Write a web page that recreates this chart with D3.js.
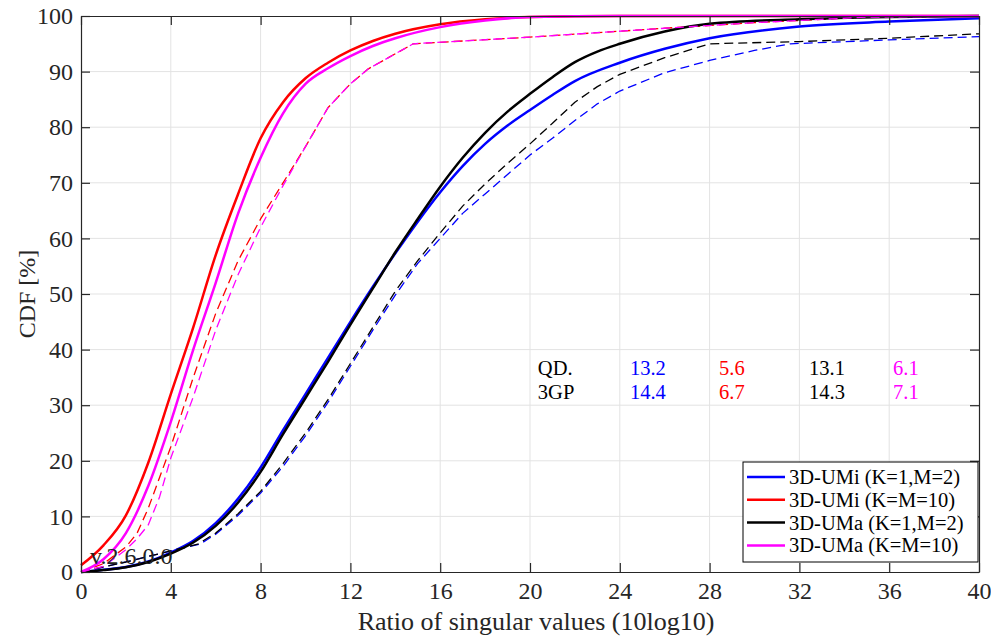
<!DOCTYPE html>
<html>
<head>
<meta charset="utf-8">
<script src="https://cdn.jsdelivr.net/npm/d3@7"></script>
<style>
  html, body { margin: 0; padding: 0; background: #fff; }
  svg { display: block; }
  text { font-family: "Liberation Serif", "DejaVu Serif", serif; }
</style>
</head>
<body>
<svg id="chart" width="991" height="637"></svg>
<script>
// ---------------- DATA ----------------
const xTicks = [0, 4, 8, 12, 16, 20, 24, 28, 32, 36, 40];
const yTicks = [0, 10, 20, 30, 40, 50, 60, 70, 80, 90, 100];

const seriesNames = ["3D-UMi (K=1,M=2)", "3D-UMi (K=M=10)", "3D-UMa (K=1,M=2)", "3D-UMa (K=M=10)"];
const seriesColors = ["#0000ff", "#ff0000", "#000000", "#ff00ff"];

// QD (solid) curves
const umiK1M2_qd_x = [0, 1, 2, 3, 4, 5, 6, 7, 8, 9, 10, 11, 12, 13, 14, 15, 16, 17, 18, 19, 20, 21, 22, 24, 26, 28, 32, 36, 40];
const umiK1M2_qd_y = [0, 0.4, 0.9, 1.9, 3.5, 5.6, 8.8, 13.2, 18.8, 25.5, 32, 38.5, 45, 51.3, 57.3, 63, 68.3, 73, 77, 80.3, 83.1, 85.8, 88.3, 91.6, 94.1, 96.0, 98.1, 99.0, 99.6];

const umiK10_qd_x = [0, 1, 2, 3, 4, 5, 6, 7, 8, 9, 10, 11, 12, 13, 14, 16, 18, 20, 24, 40];
const umiK10_qd_y = [1.2, 4.8, 10.2, 19.7, 32, 44, 57, 68, 78, 84.5, 88.8, 91.6, 93.8, 95.5, 96.8, 98.5, 99.4, 99.8, 100, 100];

const umaK1M2_qd_x = [0, 1, 2, 3, 4, 5, 6, 7, 8, 9, 10, 11, 12, 13, 14, 15, 16, 17, 18, 19, 20, 21, 22, 23, 24, 26, 28, 32, 36, 40];
const umaK1M2_qd_y = [0, 0.35, 0.85, 1.8, 3.3, 5.3, 8.3, 12.5, 18, 24.8, 31.3, 37.8, 44.5, 51, 57.5, 63.5, 69.3, 74.5, 79, 82.8, 86, 89, 91.7, 93.6, 95.0, 97.2, 98.6, 99.4, 99.8, 100];

const umaK10_qd_x = [0, 1, 2, 3, 4, 5, 6, 7, 8, 9, 10, 11, 12, 13, 14, 16, 18, 20, 24, 40];
const umaK10_qd_y = [0, 2.3, 7, 15.5, 27, 40, 52, 64.5, 74.5, 82.5, 87.8, 90.6, 92.8, 94.6, 96.0, 98.0, 99.2, 99.8, 100, 100];

// 3GPP (dashed) curves
const umiK1M2_3gp_x = [0, 2, 4, 5.3, 6, 7, 8, 9, 10, 11, 12, 13, 14, 15, 16, 17, 18, 19, 20, 21, 22, 23, 24, 26, 28, 30, 31.6, 36, 40];
const umiK1M2_3gp_y = [0, 1.8, 3.8, 5, 6.8, 10.2, 14.2, 19, 24.5, 30.5, 37, 43.5, 49.8, 55.5, 60, 64.5, 68, 71.5, 75, 78, 81.2, 84.2, 86.5, 89.8, 92, 93.8, 95, 95.7, 96.3];

const umiK10_3gp_x = [0, 1, 2, 2.5, 3, 3.5, 4, 5, 6, 7, 8, 9, 10, 11, 12, 12.8, 14.8, 20, 26, 30, 35, 40];
const umiK10_3gp_y = [0, 1.5, 4.5, 7, 11.5, 17, 22.5, 35, 46.5, 56, 63.5, 70, 76.5, 83.5, 87.8, 90.5, 95, 96.2, 97.8, 98.8, 99.8, 100];

const umaK1M2_3gp_x = [0, 2, 4, 5.2, 6, 7, 8, 9, 10, 11, 12, 13, 14, 15, 16, 17, 18, 19, 20, 21, 22, 23, 24, 26, 28, 32, 36, 40];
const umaK1M2_3gp_y = [0, 1.8, 3.8, 5, 7, 10.5, 14.5, 19.5, 25, 31, 37.5, 44, 50.5, 56, 61, 65.8, 69.8, 73.5, 77, 80.7, 84.5, 87.3, 89.5, 92.5, 95, 95.4, 96, 96.8];

const umaK10_3gp_x = [0, 1, 2, 2.5, 3, 3.5, 4, 5, 6, 7, 8, 9, 10, 11, 12, 12.8, 14.8, 20, 26, 30, 35, 40];
const umaK10_3gp_y = [0, 1, 4, 6, 8.5, 13.5, 20.5, 31.5, 43.5, 53.5, 62, 69.5, 76.5, 83.5, 87.8, 90.5, 95, 96.2, 97.8, 98.8, 99.8, 100];

// Annotation table
const annotRowLabels = ["QD.", "3GP"];
const qdValues = ["13.2", "5.6", "13.1", "6.1"];
const gppValues = ["14.4", "6.7", "14.3", "7.1"];

const versionText = "v.2.6.0.0";
const xLabel = "Ratio of singular values (10log10)";
const yLabel = "CDF [%]";

// ---------------- CHART ----------------
const svg = d3.select("#chart");
const margin = { left: 81, top: 16, right: 12, bottom: 65 };
const W = 991, H = 637;
const pw = W - margin.left - margin.right;   // 898
const ph = H - margin.top - margin.bottom;   // 556

const x = d3.scaleLinear().domain([0, 40]).range([margin.left, margin.left + pw]);
const y = d3.scaleLinear().domain([0, 100]).range([margin.top + ph, margin.top]);

const axisColor = "#262626";
const gridColor = "#e3e3e3";
const tickLen = 9;

// grid
const g = svg.append("g");
g.selectAll(".vgrid").data(xTicks.slice(1, -1)).join("line")
  .attr("x1", d => x(d)).attr("x2", d => x(d))
  .attr("y1", y(0)).attr("y2", y(100))
  .attr("stroke", gridColor).attr("stroke-width", 1);
g.selectAll(".hgrid").data(yTicks.slice(1, -1)).join("line")
  .attr("x1", x(0)).attr("x2", x(40))
  .attr("y1", d => y(d)).attr("y2", d => y(d))
  .attr("stroke", gridColor).attr("stroke-width", 1);

const fontTick = "24px";
const xAxisB = d3.axisBottom(x).tickValues(xTicks).tickSizeInner(-tickLen).tickSizeOuter(0).tickPadding(10).tickFormat(d3.format("d"));
const xAxisT = d3.axisTop(x).tickValues(xTicks).tickSizeInner(-tickLen).tickSizeOuter(0).tickFormat("");
const yAxisL = d3.axisLeft(y).tickValues(yTicks).tickSizeInner(-tickLen).tickSizeOuter(0).tickPadding(8).tickFormat(d3.format("d"));
const yAxisR = d3.axisRight(y).tickValues(yTicks).tickSizeInner(-tickLen).tickSizeOuter(0).tickFormat("");

function styleAxis(sel) {
  sel.select(".domain").attr("stroke", axisColor).attr("stroke-width", 1.2);
  sel.selectAll(".tick line").attr("stroke", axisColor).attr("stroke-width", 1.2);
  sel.selectAll(".tick text").attr("fill", axisColor).style("font-size", fontTick)
     .style("font-family", '"Liberation Serif", serif');
}

// curves
const lineSolid = d3.line().x(d => x(d[0])).y(d => y(d[1])).curve(d3.curveMonotoneX);
const lineDash = d3.line().x(d => x(d[0])).y(d => y(d[1])).curve(d3.curveLinear);
const zip = (xs, ys) => xs.map((v, i) => [v, ys[i]]);

const curves = [
  { xs: umiK1M2_qd_x, ys: umiK1M2_qd_y, c: 0, dash: false },
  { xs: umiK1M2_3gp_x, ys: umiK1M2_3gp_y, c: 0, dash: true },
  { xs: umiK10_qd_x, ys: umiK10_qd_y, c: 1, dash: false },
  { xs: umiK10_3gp_x, ys: umiK10_3gp_y, c: 1, dash: true },
  { xs: umaK1M2_qd_x, ys: umaK1M2_qd_y, c: 2, dash: false },
  { xs: umaK1M2_3gp_x, ys: umaK1M2_3gp_y, c: 2, dash: true },
  { xs: umaK10_qd_x, ys: umaK10_qd_y, c: 3, dash: false },
  { xs: umaK10_3gp_x, ys: umaK10_3gp_y, c: 3, dash: true }
];

const gl = svg.append("g");
curves.forEach(cv => {
  gl.append("path")
    .attr("d", (cv.dash ? lineDash : lineSolid)(zip(cv.xs, cv.ys)))
    .attr("fill", "none")
    .attr("stroke", seriesColors[cv.c])
    .attr("stroke-width", cv.dash ? 1.3 : 2.5)
    .attr("stroke-dasharray", cv.dash ? "9,5" : null)
    .attr("stroke-linejoin", "round");
});

// axes drawn on top of curves
svg.append("g").attr("transform", `translate(0,${y(0)})`).call(xAxisB).call(styleAxis);
svg.append("g").attr("transform", `translate(0,${y(100)})`).call(xAxisT).call(styleAxis);
svg.append("g").attr("transform", `translate(${x(0)},0)`).call(yAxisL).call(styleAxis);
svg.append("g").attr("transform", `translate(${x(40)},0)`).call(yAxisR).call(styleAxis);

// axis labels
svg.append("text").attr("x", x(20) + 6).attr("y", 630).attr("text-anchor", "middle")
  .style("font-size", "26px").attr("fill", axisColor).text(xLabel);
svg.append("text").attr("transform", `translate(35,${y(50)}) rotate(-90)`).attr("text-anchor", "middle")
  .style("font-size", "24px").attr("fill", axisColor).text(yLabel);

// version text
svg.append("text").attr("x", 90).attr("y", 564).style("font-size", "24px")
  .attr("fill", "#222").text(versionText);

// annotation table (positions in data coordinates)
const labelColX = 20.35;
const valueColX = [24.45, 28.42, 32.43, 36.17];
const rowYVal = [35.5, 31.2];
const tbl = svg.append("g").style("font-size", "20.5px");
annotRowLabels.forEach((t, r) => {
  tbl.append("text").attr("x", x(labelColX)).attr("y", y(rowYVal[r])).attr("fill", "#000").text(t);
});
[qdValues, gppValues].forEach((vals, r) => {
  vals.forEach((v, i) => {
    tbl.append("text").attr("x", x(valueColX[i])).attr("y", y(rowYVal[r]))
      .attr("fill", seriesColors[i]).text(v);
  });
});

// legend
const lg = svg.append("g");
const lx = 743, ly = 462, lw = 235, lh = 100;
lg.append("rect").attr("x", lx).attr("y", ly).attr("width", lw).attr("height", lh)
  .attr("fill", "#fff").attr("stroke", "#000").attr("stroke-width", 1);
seriesNames.forEach((n, i) => {
  const cy = ly + 15 + i * 22.8;
  lg.append("line").attr("x1", lx + 4).attr("x2", lx + 42).attr("y1", cy).attr("y2", cy)
    .attr("stroke", seriesColors[i]).attr("stroke-width", 2.5);
  lg.append("text").attr("x", lx + 46).attr("y", cy + 7).style("font-size", "20.5px")
    .attr("fill", "#000").text(n);
});
</script>
</body>
</html>
